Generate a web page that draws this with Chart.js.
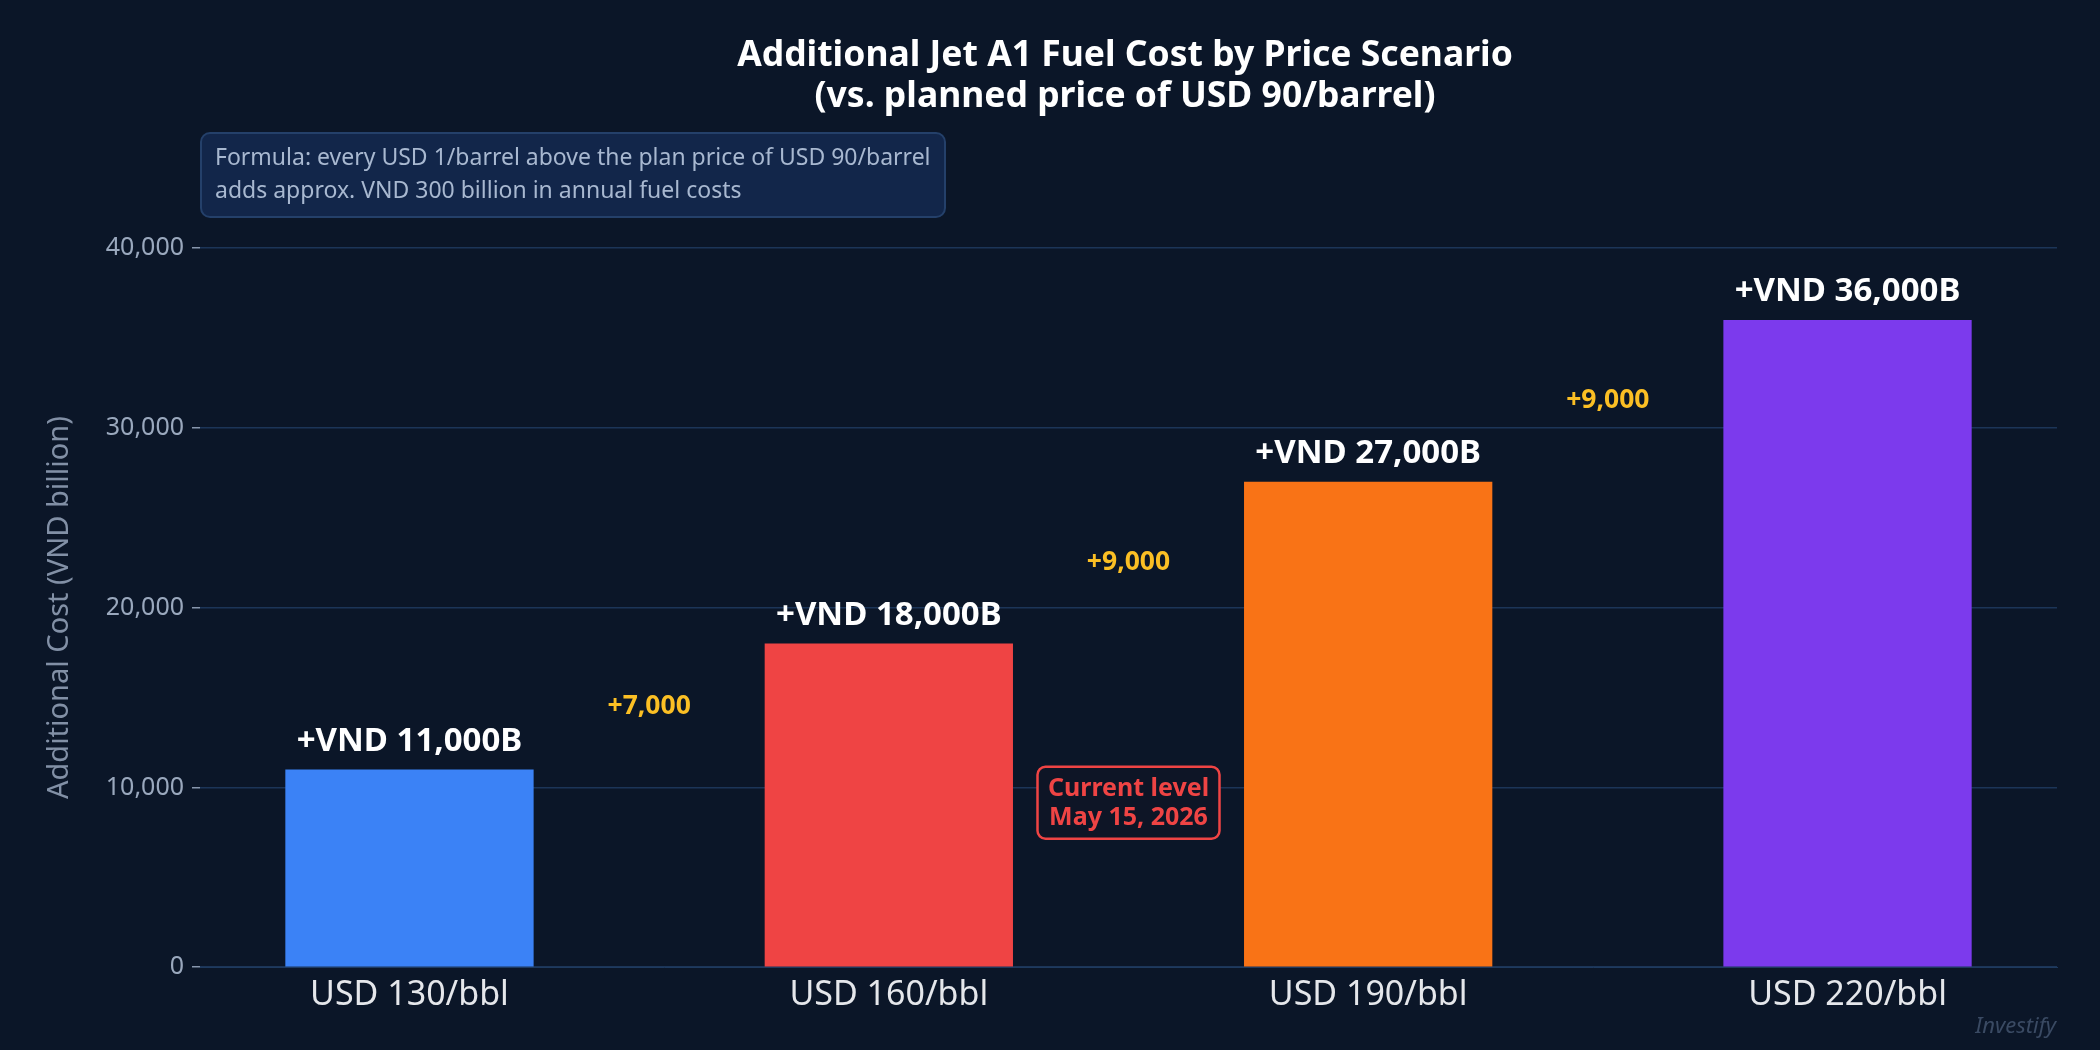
<!DOCTYPE html>
<html>
<head>
<meta charset="utf-8">
<script src="https://cdn.jsdelivr.net/npm/chart.js@4.4.1/dist/chart.umd.min.js"></script>
<style>
  body { margin: 0; background: #0b1628; }
  #wrap { width: 2100px; height: 1050px; position: relative; }
</style>
</head>
<body>
<div id="wrap"><canvas id="mycanvas"></canvas></div>
<script>
var scenarios = ['USD 130/bbl', 'USD 160/bbl', 'USD 190/bbl', 'USD 220/bbl'];
var extraCost = [11000, 18000, 27000, 36000];
var barColors = ['#3b82f6', '#ef4444', '#f97316', '#7c3aed'];
var deltaLabels = ['+7,000', '+9,000', '+9,000'];

var FONT = "'Noto Sans', 'Open Sans', sans-serif";

function roundRect(ctx, x, y, w, h, r) {
    ctx.beginPath();
    ctx.moveTo(x + r, y);
    ctx.arcTo(x + w, y, x + w, y + h, r);
    ctx.arcTo(x + w, y + h, x, y + h, r);
    ctx.arcTo(x, y + h, x, y, r);
    ctx.arcTo(x, y, x + w, y, r);
    ctx.closePath();
}

// draws title, value labels, deltas and note boxes
var extras = {
    id: 'extras',
    afterDatasetsDraw: function(chart) {
        var ctx = chart.ctx;
        var xs = chart.scales.x, ys = chart.scales.y;
        ctx.save();
        ctx.textAlign = 'center';
        ctx.textBaseline = 'middle';
        ctx.fillStyle = '#ffffff';
        ctx.font = 'bold 35.5px ' + FONT;
        ctx.fillText('Additional Jet A1 Fuel Cost by Price Scenario', 1125, 56);
        ctx.fillText('(vs. planned price of USD 90/barrel)', 1125, 97);

        // formula box
        roundRect(ctx, 201, 133, 744, 84, 9);
        ctx.fillStyle = '#12264a';
        ctx.fill();
        ctx.strokeStyle = '#24406a';
        ctx.lineWidth = 2;
        ctx.stroke();
        ctx.textAlign = 'left';
        ctx.fillStyle = '#a8b8d0';
        ctx.font = '23px ' + FONT;
        ctx.fillText('Formula: every USD 1/barrel above the plan price of USD 90/barrel', 215, 158);
        ctx.fillText('adds approx. VND 300 billion in annual fuel costs', 215, 191);

        // value labels
        ctx.textAlign = 'center';
        ctx.font = 'bold 33px ' + FONT;
        ctx.fillStyle = '#ffffff';
        for (var i = 0; i < extraCost.length; i++) {
            ctx.fillText('+VND ' + extraCost[i].toLocaleString('en-US') + 'B',
                xs.getPixelForValue(i), ys.getPixelForValue(extraCost[i]) - 28);
        }

        // deltas between bars
        ctx.font = 'bold 26.5px ' + FONT;
        ctx.fillStyle = '#fbbf24';
        for (var j = 0; j < deltaLabels.length; j++) {
            var mid = (extraCost[j] + extraCost[j + 1]) / 2;
            ctx.fillText(deltaLabels[j], xs.getPixelForValue(j + 0.5), ys.getPixelForValue(mid));
        }

        // current level marker
        var cx = xs.getPixelForValue(1.5), cy = ys.getPixelForValue(9150);
        roundRect(ctx, cx - 91, cy - 36, 182, 72, 8);
        ctx.fillStyle = '#0e1526';
        ctx.fill();
        ctx.strokeStyle = '#ef4444';
        ctx.lineWidth = 2.5;
        ctx.stroke();
        ctx.fillStyle = '#ef4444';
        ctx.font = 'bold 25px ' + FONT;
        ctx.fillText('Current level', cx, cy - 14);
        ctx.fillText('May 15, 2026', cx, cy + 15);

        // watermark
        ctx.textAlign = 'right';
        ctx.fillStyle = '#3a4a63';
        ctx.font = 'italic 22px ' + FONT;
        ctx.fillText('Investify', 2056, 1027);
        ctx.restore();
    }
};

var points = [];
for (var k = 0; k < extraCost.length; k++) {
    points.push({ x: k, y: extraCost[k] });
}

var chartdata = {
    datasets: [{
        data: points,
        backgroundColor: barColors,
        borderWidth: 0,
        categoryPercentage: 1,
        barPercentage: 0.518
    }]
};

new Chart(document.getElementById('mycanvas'), {
    type: 'bar',
    data: chartdata,
    plugins: [extras],
    options: {
        responsive: true,
        maintainAspectRatio: false,
        devicePixelRatio: 1,
        animation: false,
        layout: { padding: { top: 248, right: 43, bottom: 34, left: 21 } },
        plugins: { legend: { display: false }, tooltip: { enabled: false } },
        scales: {
            x: {
                type: 'linear',
                min: -0.437, max: 3.437,
                offset: false,
                afterBuildTicks: function(axis) {
                    axis.ticks = scenarios.map(function(s, i) { return { value: i }; });
                },
                grid: { display: false },
                border: { color: '#1e3a5f' },
                ticks: {
                    color: '#e5e7eb', font: { family: FONT, size: 34 }, padding: 0,
                    callback: function(v) { return scenarios[v]; }
                }
            },
            y: {
                min: 0, max: 40000,
                ticks: {
                    stepSize: 10000, color: '#9aa8bd', padding: 8,
                    font: { family: FONT, size: 25 },
                    callback: function(v) { return v.toLocaleString('en-US'); }
                },
                grid: { color: '#1c3558', lineWidth: 1.5, tickLength: 8, tickColor: '#8796ad' },
                border: { display: false },
                title: { display: true, text: 'Additional Cost (VND billion)', color: '#8290a6', font: { family: FONT, size: 29 }, padding: 21 }
            }
        }
    }
});
</script>
</body>
</html>
